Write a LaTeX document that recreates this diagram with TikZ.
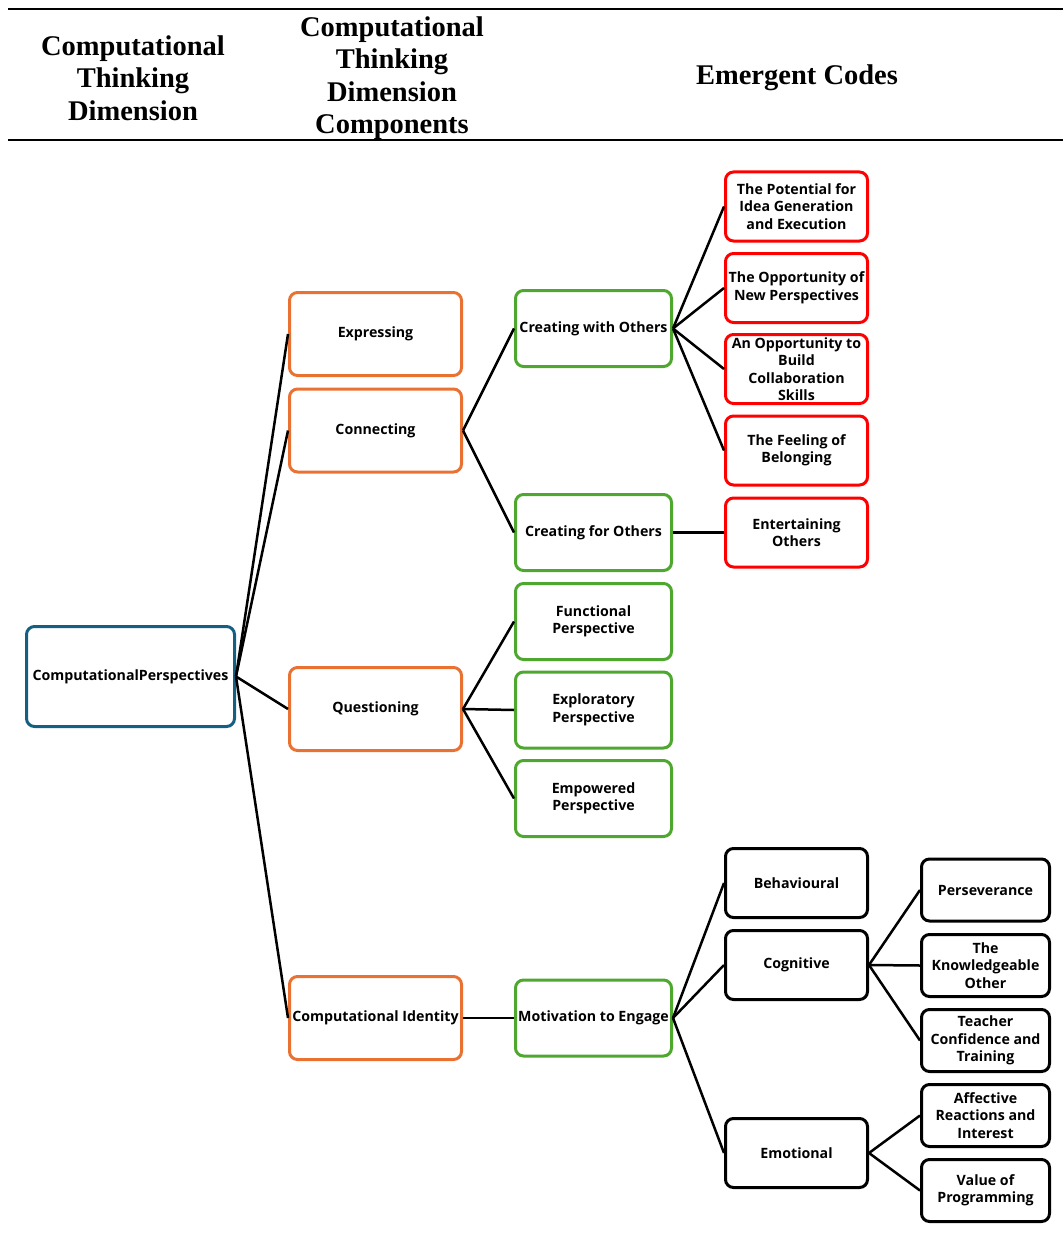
\documentclass[tikz,border=0pt]{standalone}
\usepackage{fontspec}
\setmainfont{Liberation Serif}
\newfontfamily\boxsans{Open Sans}
\definecolor{cpblue}{HTML}{156082}
\definecolor{cporange}{HTML}{E97132}
\definecolor{cpgreen}{HTML}{4EA72E}
\definecolor{cpred}{HTML}{FF0000}
\begin{document}
\begin{tikzpicture}[x=1pt,y=-1pt,
  box/.style={draw, rounded corners=8pt, line width=3pt, align=center, inner sep=1pt,
    font=\boxsans\bfseries\fontsize{14.2}{17.5}\selectfont},
  rootbox/.style={box, draw=cpblue, minimum width=208pt, minimum height=100pt},
  compbox/.style={box, draw=cporange, minimum width=172pt, minimum height=83pt},
  subbox/.style={box, draw=cpgreen, minimum width=156pt, minimum height=76pt},
  codebox/.style={box, draw=cpred, minimum width=142pt, minimum height=69pt},
  dimbox/.style={box, draw=black, minimum width=142pt, minimum height=69pt},
  leafbox/.style={box, draw=black, minimum width=128pt, minimum height=62pt},
  link/.style={draw=black, line width=2.5pt},
  head/.style={align=center, font=\bfseries\fontsize{28.5}{32.5}\selectfont, inner sep=0pt},
  rule/.style={line width=2.5pt}]
\useasboundingbox (0,0) rectangle (1063,1260);

% table header
\coordinate (rtl) at (8,9);
\coordinate (rtr) at (1063,9);
\coordinate (rbl) at (8,140);
\coordinate (rbr) at (1063,140);
\draw[rule] (rtl) -- (rtr);
\draw[rule] (rbl) -- (rbr);
\node[head] (h1) at (133,78) {Computational\\Thinking\\Dimension};
\node[head] (h2) at (392,78) {Computational\\Thinking\\Dimension\\Components};
\node[head] (h3) at (797,78) {Emergent Codes};

% dimension
\node[rootbox] (root) at (130.5,676.5) {ComputationalPerspectives};

% components
\node[compbox] (expr) at (375.5,334) {Expressing};
\node[compbox] (conn) at (375.5,430.5) {Connecting};
\node[compbox] (ques) at (375.5,709) {Questioning};
\node[compbox] (cid) at (375.5,1018) {Computational Identity};

% sub-components
\node[subbox] (cwo) at (593.5,328.5) {Creating with Others};
\node[subbox] (cfo) at (593.5,532.5) {Creating for Others};
\node[subbox] (func) at (593.5,621.5) {Functional\\Perspective};
\node[subbox] (expl) at (593.5,710) {Exploratory\\Perspective};
\node[subbox] (empw) at (593.5,798.5) {Empowered\\Perspective};
\node[subbox] (moti) at (593.5,1018) {Motivation to Engage};

% emergent codes
\node[codebox] (pot) at (796.5,206.5) {The Potential for\\Idea Generation\\and Execution};
\node[codebox] (opp) at (796.5,288) {The Opportunity of\\New Perspectives};
\node[codebox] (bld) at (796.5,369) {An Opportunity to\\Build\\Collaboration\\Skills};
\node[codebox] (bel) at (796.5,450.5) {The Feeling of\\Belonging};
\node[codebox] (ent) at (796.5,532.5) {Entertaining\\Others};

\node[dimbox] (beh) at (796.5,883) {Behavioural};
\node[dimbox] (cog) at (796.5,965) {Cognitive};
\node[dimbox] (emo) at (796.5,1153) {Emotional};

\node[leafbox] (per) at (985.5,890) {Perseverance};
\node[leafbox] (kno) at (985.5,965.5) {The\\Knowledgeable\\Other};
\node[leafbox] (tea) at (985.5,1040.5) {Teacher\\Confidence and\\Training};
\node[leafbox] (aff) at (985.5,1115.5) {Affective\\Reactions and\\Interest};
\node[leafbox] (val) at (985.5,1190.5) {Value of\\Programming};

% connectors
\foreach \t in {expr,conn,ques,cid} \draw[link] (root.east) -- (\t.west);
\foreach \t in {cwo,cfo} \draw[link] (conn.east) -- (\t.west);
\foreach \t in {func,expl,empw} \draw[link] (ques.east) -- (\t.west);
\draw[link] (cid.east) -- (moti.west);
\foreach \t in {pot,opp,bld,bel} \draw[link] (cwo.east) -- (\t.west);
\draw[link] (cfo.east) -- (ent.west);
\foreach \t in {beh,cog,emo} \draw[link] (moti.east) -- (\t.west);
\foreach \t in {per,kno,tea} \draw[link] (cog.east) -- (\t.west);
\foreach \t in {aff,val} \draw[link] (emo.east) -- (\t.west);
\end{tikzpicture}
\end{document}
